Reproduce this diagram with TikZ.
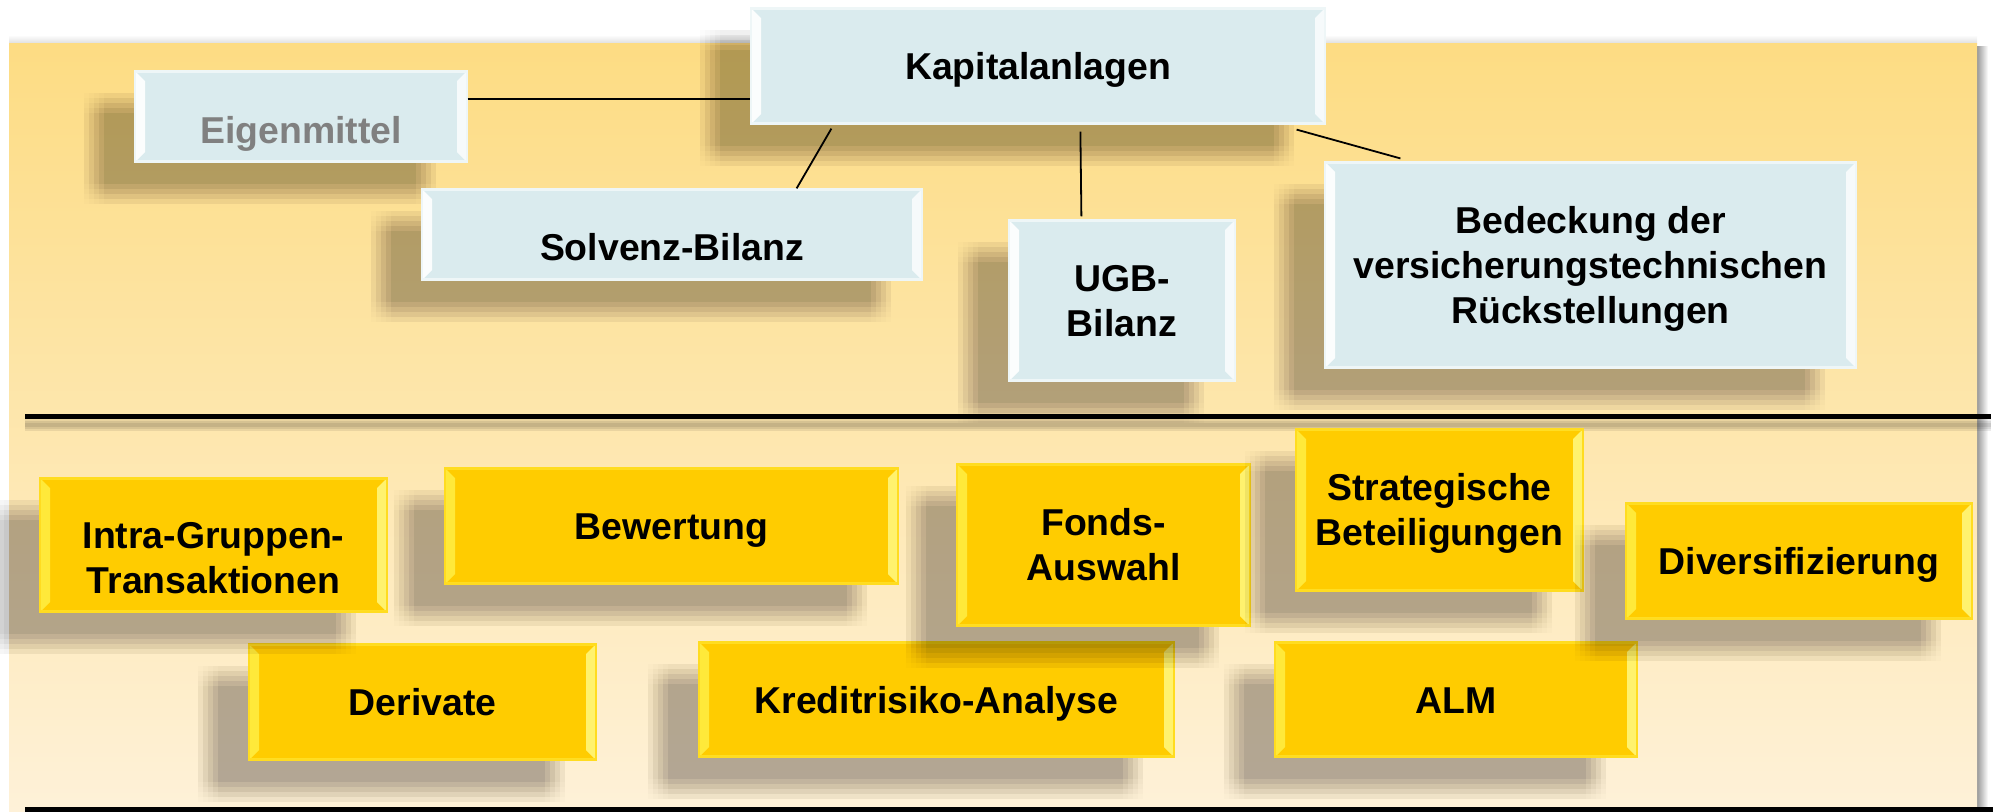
\documentclass[tikz,border=0pt]{standalone}
\usepackage{fontspec}
\setmainfont{Liberation Sans}
\usetikzlibrary{shadows}

\definecolor{panelTop}{RGB}{253,220,131}
\definecolor{panelBot}{RGB}{254,241,216}
\definecolor{boxBlue}{RGB}{218,235,238}
\definecolor{boxGold}{RGB}{255,204,0}
\definecolor{goldHiL}{RGB}{255,233,58}
\definecolor{goldHiR}{RGB}{255,242,110}
\definecolor{labelGrey}{RGB}{128,128,128}

\begin{document}
\begin{tikzpicture}[x=0.5pt, y=-0.5pt,
  % box placed by its corner coordinates (x1,y1) and (x2,y2)
  corners/.style n args={4}{at={({(#1+#3)/2},{(#2+#4)/2})},
    minimum width={0.5*(#3-#1)}, minimum height={0.5*(#4-#2)}},
  boxfont/.style={font=\fontsize{18.7pt}{22.5pt}\selectfont\bfseries},
  % text box measured from the baseline of the last line
  lineone/.style={text height=14pt, text depth=0.25pt},
  linetwo/.style={text height=36pt, text depth=0.1pt},
  linethree/.style={text height=58.5pt, text depth=0.1pt},
  % soft drop shadow built from a 5x5 grid of faint offset copies
  sbit/.style 2 args={general shadow={draw=none, fill=black,
    fill opacity=0.011, shadow xshift=#1, shadow yshift=#2}},
  sbrow/.style={sbit={-25.5pt}{#1}, sbit={-23pt}{#1}, sbit={-20.5pt}{#1},
    sbit={-18pt}{#1}, sbit={-15.5pt}{#1}},
  dropshadow/.style={sbrow=-21pt, sbrow=-18.5pt, sbrow=-16pt, sbrow=-13.5pt, sbrow=-11pt},
  bevel/.style n args={3}{path picture={
    \fill[#1] (path picture bounding box.north west)
      -- ([shift={(5pt,-5pt)}]path picture bounding box.north west)
      -- ([shift={(5pt,5pt)}]path picture bounding box.south west)
      -- (path picture bounding box.south west) -- cycle;
    \fill[#2] (path picture bounding box.north east)
      -- ([shift={(-5pt,-5pt)}]path picture bounding box.north east)
      -- ([shift={(-5pt,5pt)}]path picture bounding box.south east)
      -- (path picture bounding box.south east) -- cycle;
    \fill[#3] (path picture bounding box.north west)
      rectangle ([yshift=-1.2pt]path picture bounding box.north east);
    \fill[#3] (path picture bounding box.south west)
      rectangle ([yshift=1.2pt]path picture bounding box.south east);
  }},
  bluebox/.style={rectangle, inner sep=0pt, fill=boxBlue,
    draw=white!55!boxBlue, line width=0.6pt, boxfont, align=center,
    dropshadow, bevel={white!88!boxBlue}{white!75!boxBlue}{white!55!boxBlue}},
  goldbox/.style={rectangle, inner sep=0pt, fill=boxGold,
    draw=goldHiL!55!boxGold, line width=0.6pt, boxfont, align=center,
    dropshadow, bevel={goldHiL}{goldHiR}{goldHiL!60!boxGold}},
  conn/.style={draw=black, line width=0.9pt},
  sepline/.style={draw=black, line width=2.25pt},
  sepshade/.style={draw=black, opacity=0.08}
]
\useasboundingbox (0,0) rectangle (1993,811);
\clip (0,0) rectangle (1993,811);

% background panel with a soft grey edge on top and right
\fill[top color=white, bottom color=black!12] (9,35) rectangle (1977,43);
\fill[left color=black!40, right color=white] (1977,46) rectangle (1988,811);
\fill[top color=panelTop, bottom color=panelBot] (9,43) rectangle (1977,811);

% dividing rules
\coordinate (sepL) at (25,416.7);
\coordinate (sepR) at (1991,416.7);
\coordinate (botL) at (25,809.5);
\coordinate (botR) at (1993,809.5);
\foreach \w in {6pt,4pt,2pt}
  \draw[sepshade, line width=\w] ([yshift=-4pt]sepL) -- ([yshift=-4pt]sepR);
\draw[sepline] (sepL) -- (sepR);
\draw[sepline] (botL) -- (botR);

% lower row of topics
\node[goldbox, corners={249}{644}{596}{760}, lineone] (deriv) {Derivate};
\node[goldbox, corners={699}{642}{1174}{757}, lineone] (kredit) {Kreditrisiko-Analyse};
\node[goldbox, corners={1275}{642}{1637}{757}, lineone] (alm) {ALM};

% upper row of topics
\node[goldbox, corners={40}{478}{387}{612}, text height=48.1pt, text depth=0.1pt] (intra) {Intra-Gruppen-\\Transaktionen};
\node[goldbox, corners={445}{468}{898}{584}, lineone] (bew) {Bewertung};
\node[goldbox, corners={957}{464}{1250}{626}, linetwo] (fonds) {Fonds-\\Auswahl};
\node[goldbox, corners={1296}{429}{1583}{591}, linetwo] (strat) {Strategische\\Beteiligungen};
\node[goldbox, corners={1626}{503}{1972}{619}, lineone] (div) {Diversifizierung};

% balance-sheet views around the central topic
\node[bluebox, corners={135}{71}{467}{162}, text height=26.75pt, text depth=0.25pt, text=labelGrey] (eigen) {Eigenmittel};
\node[bluebox, corners={422}{189}{922}{280}, text height=25.75pt, text depth=0.25pt] (solv) {Solvenz-Bilanz};
\node[bluebox, corners={1009}{220}{1235}{381}, linetwo] (ugb) {UGB-\\Bilanz};
\node[bluebox, corners={1325}{162}{1856}{368}, linethree] (bed) {Bedeckung der\\versicherungstechnischen\\Rückstellungen};
\node[bluebox, corners={751}{8}{1325}{124}, lineone] (kap) {Kapitalanlagen};

% connectors from the central topic
\draw[conn] ([yshift=8.75pt]eigen.east) -- ([yshift=-16.5pt]kap.west);
\draw[conn] ([xshift=40.5pt,yshift=-2pt]kap.south west) -- ([xshift=-63pt]solv.north east);
\draw[conn] ([xshift=165pt,yshift=-3.5pt]kap.south west) -- ([xshift=36.5pt,yshift=1.5pt]ugb.north west);
\draw[conn] ([xshift=-14.5pt,yshift=-2.5pt]kap.south east) -- ([xshift=38pt,yshift=1.5pt]bed.north west);
\end{tikzpicture}
\end{document}
